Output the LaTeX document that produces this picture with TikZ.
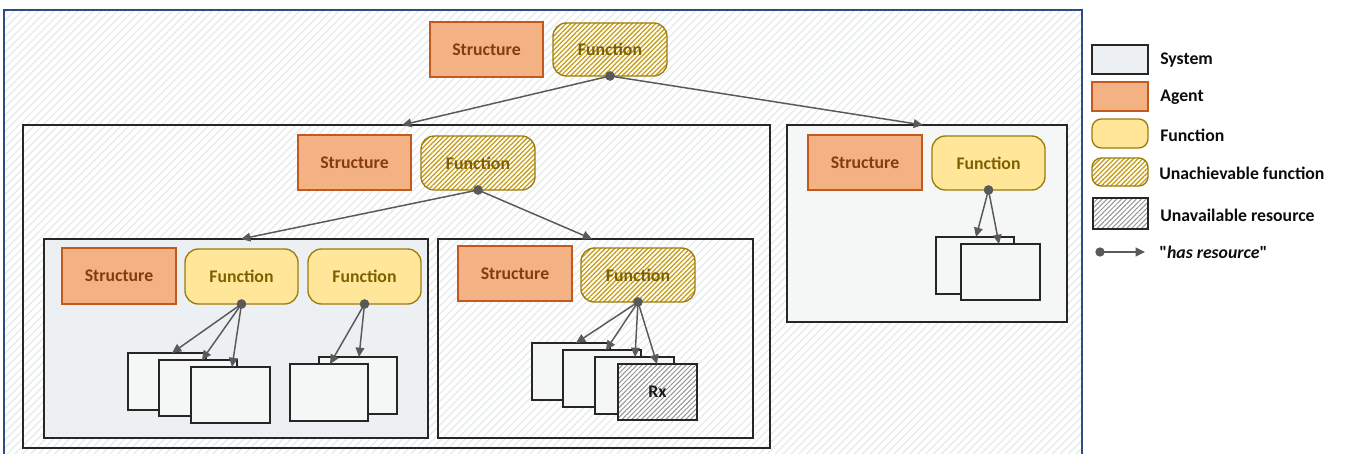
\documentclass[tikz,border=0pt]{standalone}
\usepackage{fontspec}
\setmainfont{Carlito}
\usetikzlibrary{arrows.meta,patterns.meta,calc}
\definecolor{agentfill}{HTML}{F4B183}
\definecolor{agentdraw}{HTML}{C05A1E}
\definecolor{agenttext}{HTML}{843C0C}
\definecolor{funcfill}{HTML}{FFE699}
\definecolor{funcdraw}{HTML}{9C7C0C}
\definecolor{functext}{HTML}{7F6000}
\definecolor{hatchgold}{HTML}{C49C12}
\definecolor{sysfill}{HTML}{EDF0F3}
\definecolor{resfill}{HTML}{F5F7F7}
\definecolor{linkgray}{HTML}{595959}
\definecolor{framedark}{HTML}{262626}
\definecolor{outerblue}{HTML}{2F4A85}
\definecolor{bghatch}{HTML}{E6E9EC}
\definecolor{rightfill}{HTML}{F5F7F6}
\newcommand\pxbox[7]{%
  \node[#1, minimum width={(#4-#2)*0.75pt}, minimum height={(#5-#3)*0.75pt}] (#6) at ({(#2+#4)/2},{(#3+#5)/2}) {#7};}
\tikzset{
  base/.style={inner sep=0pt, outer sep=0pt, font=\bfseries\fontsize{13.3}{15}\selectfont},
  agent/.style={base, draw=agentdraw, fill=agentfill, line width=1pt, text=agenttext},
  func/.style={base, rounded corners=10pt, draw=funcdraw, fill=funcfill, line width=1pt, text=functext},
  ufunc/.style={func, preaction={fill=white}, pattern={Lines[angle=45,distance=2.5pt,line width=0.95pt]}, pattern color=hatchgold},
  sysbox/.style={base, draw=framedark, line width=1.1pt},
  res/.style={base, draw=framedark, fill=resfill, line width=1.1pt},
  unres/.style={res, preaction={fill=white}, pattern={Lines[angle=45,distance=2.6pt,line width=0.75pt]}, pattern color=gray!85, text=black!90},
  link/.style={draw=linkgray, line width=1.1pt, -{Triangle[length=7pt,width=6.5pt]}},
  dot/.style={circle, fill=linkgray, inner sep=0pt, minimum size=7pt},
  legtext/.style={anchor=west, inner sep=0pt, text=black!95, font=\bfseries\fontsize{13.3}{15}\selectfont},
}
\begin{document}
\begin{tikzpicture}[x=0.75pt,y=-0.75pt]
\useasboundingbox (0,0) rectangle (1355,453);
\clip (0,0) rectangle (1355,453);
% outer background
\fill[white] (0,0) rectangle (1355,453);
\fill[pattern={Lines[angle=45,distance=4.2pt,line width=0.9pt]}, pattern color=bghatch] (4,10) rectangle (1082,470);
\draw[outerblue, line width=1.2pt] (4,470) -- (4,10) -- (1082,10) -- (1082,470);

% top level
\pxbox{agent}{430}{22}{543}{77}{s0}{Structure}
\pxbox{ufunc}{553}{23}{667}{76}{f0}{Function}

% big system
\pxbox{sysbox}{23}{125}{770}{448}{big}{}
\pxbox{agent}{298}{135}{411}{190}{s1}{Structure}
\pxbox{ufunc}{421}{136}{535}{190}{f1}{Function}

% box A
\pxbox{sysbox,fill=sysfill}{44}{239}{428}{438}{boxA}{}
\pxbox{agent}{62}{248}{176}{304}{sA}{Structure}
\pxbox{func}{185}{249}{298}{304}{fA1}{Function}
\pxbox{func}{308}{249}{421}{304}{fA2}{Function}
\pxbox{res}{128}{353}{206}{410}{rA1}{}
\pxbox{res}{159}{360}{237}{416}{rA2}{}
\pxbox{res}{191}{367}{270}{423}{rA3}{}
\pxbox{res}{319}{357}{397}{414}{rA4}{}
\pxbox{res}{290}{364}{368}{421}{rA5}{}

% box B
\pxbox{sysbox}{438}{239}{753}{438}{boxB}{}
\pxbox{agent}{458}{246}{572}{301}{sB}{Structure}
\pxbox{ufunc}{581}{248}{695}{302}{fB}{Function}
\pxbox{res}{532}{343}{610}{400}{rB1}{}
\pxbox{res}{563}{350}{641}{407}{rB2}{}
\pxbox{res}{595}{357}{674}{414}{rB3}{}
\pxbox{unres}{618}{364}{697}{420}{rB4}{Rx}

% box C
\pxbox{sysbox,fill=rightfill}{787}{125}{1067}{322}{boxC}{}
\pxbox{agent}{808}{135}{922}{190}{sC}{Structure}
\pxbox{func}{932}{136}{1045}{190}{fC}{Function}
\pxbox{res}{936}{237}{1014}{294}{rC1}{}
\pxbox{res}{961}{244}{1040}{300}{rC2}{}

% dots
\node[dot] (d0) at (f0.south) {};
\node[dot] (d1) at (f1.south) {};
\node[dot] (dA1) at (fA1.south) {};
\node[dot] (dA2) at (fA2.south) {};
\node[dot] (dB) at (fB.south) {};
\node[dot] (dC) at (fC.south) {};

% links
\draw[link] (d0.center) -- ($(big.north west)+(379,0)$);
\draw[link] (d0.center) -- ($(boxC.north west)+(136,0)$);
\draw[link] (d1.center) -- ($(boxA.north west)+(197,0)$);
\draw[link] (d1.center) -- ($(boxB.north west)+(154,0)$);
\draw[link] (dA1.center) -- ($(rA1.north west)+(44,0)$);
\draw[link] (dA1.center) -- ($(rA2.north west)+(43,0)$);
\draw[link] (dA1.center) -- ($(rA3.north west)+(41,0)$);
\draw[link] (dA2.center) -- ($(rA5.north west)+(40,0)$);
\draw[link] (dA2.center) -- ($(rA4.north west)+(40,0)$);
\draw[link] (dB.center) -- ($(rB1.north west)+(44,0)$);
\draw[link] (dB.center) -- ($(rB2.north west)+(43,0)$);
\draw[link] (dB.center) -- ($(rB3.north west)+(40,0)$);
\draw[link] (dB.center) -- ($(rB4.north west)+(39,0)$);
\draw[link] (dC.center) -- ($(rC1.north west)+(40,0)$);
\draw[link] (dC.center) -- ($(rC2.north west)+(38,0)$);
\node[dot] at (d0) {};
\node[dot] at (d1) {};
\node[dot] at (dA1) {};
\node[dot] at (dA2) {};
\node[dot] at (dB) {};
\node[dot] at (dC) {};

% legend
\pxbox{sysbox,fill=sysfill}{1092}{45}{1148}{74}{lsys}{}
\pxbox{agent}{1092}{82}{1148}{111}{lag}{}
\pxbox{func,rounded corners=7pt}{1092}{119}{1148}{148}{lfn}{}
\pxbox{ufunc,rounded corners=7pt}{1092}{158}{1148}{186}{luf}{}
\pxbox{unres}{1093}{198}{1148}{229}{lur}{}
\node[legtext] (tsys) at (1160,60) {System};
\node[legtext] (tag) at (1160,97) {Agent};
\node[legtext] (tfn) at (1160,135) {Function};
\node[legtext] (tuf) at (1159,173) {Unachievable function};
\node[legtext] (tur) at (1160,215) {Unavailable resource};
\node[dot] (ld) at (1100,252) {};
\coordinate (le) at (1145,252);
\draw[link] (ld.center) -- (le);
\node[legtext] (thr) at (1159,252) {\textquotedbl\textit{has resource}\textquotedbl};
\end{tikzpicture}
\end{document}
